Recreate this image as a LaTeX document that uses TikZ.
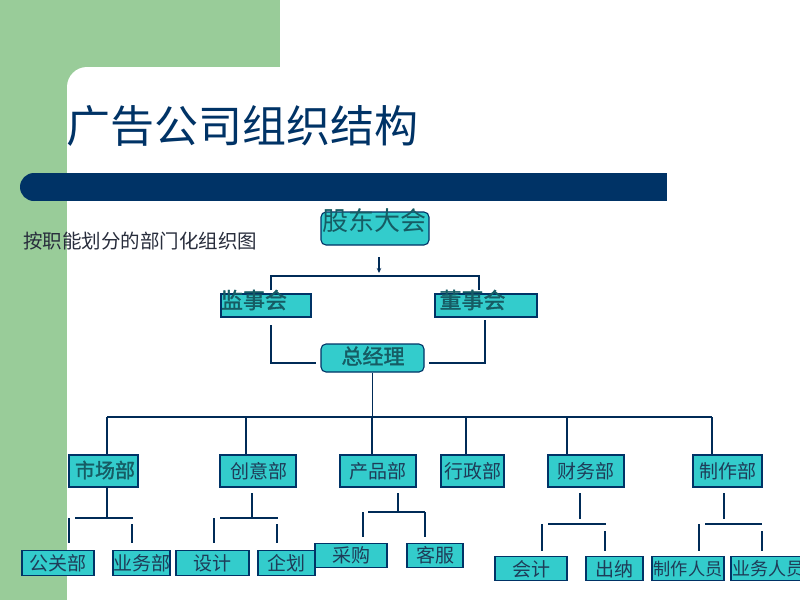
\documentclass[tikz,border=0pt]{standalone}
\usepackage{fontspec}
\newfontfamily\cjk[AutoFakeBold=1.6]{Noto Sans CJK SC}
\usetikzlibrary{arrows.meta,calc}
\definecolor{bggreen}{RGB}{153,204,153}
\definecolor{navy}{RGB}{0,51,102}
\definecolor{tealfill}{RGB}{51,204,204}
\definecolor{boldtxt}{RGB}{22,92,100}
\definecolor{regtxt}{RGB}{30,60,88}
\definecolor{subtxt}{RGB}{40,45,60}
\tikzset{
  box/.style={draw=navy, fill=tealfill, line width=1.1pt, inner sep=0pt},
  rbox/.style={box, rounded corners=5pt},
  lbl/.style={inner sep=0pt, font=\cjk, text=regtxt},
  blbl/.style={inner sep=0pt, font=\cjk\bfseries, text=boldtxt},
  conn/.style={draw=navy!85!black, line width=1.1pt},
}
\begin{document}
\begin{tikzpicture}[x=1pt,y=-1pt]
\useasboundingbox (0,0) rectangle (800,600);
% background
\fill[white] (0,0) rectangle (800,600);
\fill[bggreen] (0,0) rectangle (280,110);
\fill[bggreen] (0,0) rectangle (67,600);
\fill[white, rounded corners=20pt] (67,640) -- (67,67) -- (840,67) -- (840,640) -- cycle;
% title
\node[anchor=west, inner sep=0pt, font=\cjk\fontsize{44}{44}\selectfont, text=navy] (title) at (66,126) {广告公司组织结构};
% bar
\fill[navy] (34,173) rectangle (667,201);
\fill[navy] (34,187) circle[radius=14];
% subtitle
\node[anchor=west, inner sep=0pt, font=\cjk\fontsize{19.5}{20}\selectfont, text=subtxt] (sub) at (23,241) {按职能划分的部门化组织图};

% top boxes
\node[rbox, minimum width=108pt, minimum height=33pt] (gd) at (375,228.5) {};
\node[lbl, text=boldtxt, font=\cjk\fontsize{26}{26}\selectfont] (gdt) at (374.5,221) {股东大会};
\node[box, minimum width=90pt, minimum height=23pt] (jsh) at (266,305.5) {};
\node[blbl, font=\cjk\bfseries\fontsize{22}{22}\selectfont] (jsht) at (254,300) {监事会};
\node[box, minimum width=102pt, minimum height=23pt] (dsh) at (486,305.5) {};
\node[blbl, font=\cjk\bfseries\fontsize{22}{22}\selectfont] (dsht) at (472.5,300) {董事会};
\node[rbox, minimum width=103pt, minimum height=28pt] (zjl) at (372.5,358) {};
\node[blbl, font=\cjk\bfseries\fontsize{21}{21}\selectfont] (zjlt) at (373,356) {总经理};

% departments
\tikzset{dept/.style={box, minimum height=32pt}}
\node[dept, minimum width=69pt] (scb) at (103.5,471) {};
\node[blbl, font=\cjk\bfseries\fontsize{20}{20}\selectfont] (scbt) at (105,470) {市场部};
\node[dept, minimum width=76pt] (cyb) at (258,471) {};
\node[lbl, font=\cjk\fontsize{19}{19}\selectfont] (cybt) at (258.5,471) {创意部};
\node[dept, minimum width=76pt] (cpb) at (378,471) {};
\node[lbl, font=\cjk\fontsize{19}{19}\selectfont] (cpbt) at (378,471) {产品部};
\node[dept, minimum width=63pt] (xzb) at (472.5,471) {};
\node[lbl, font=\cjk\fontsize{19}{19}\selectfont] (xzbt) at (473,471) {行政部};
\node[dept, minimum width=76pt] (cwb) at (586,471) {};
\node[lbl, font=\cjk\fontsize{19}{19}\selectfont] (cwbt) at (586,471) {财务部};
\node[dept, minimum width=69pt] (zzb) at (727.5,471) {};
\node[lbl, font=\cjk\fontsize{19}{19}\selectfont] (zzbt) at (728,471) {制作部};

% leaves
\tikzset{leaf/.style={box, minimum height=24.5pt}, ltxt/.style={lbl, font=\cjk\fontsize{19}{19}\selectfont}}
\node[leaf, minimum width=72pt] (ggb) at (58,563) {};
\node[ltxt] (ggbt) at (58,563) {公关部};
\node[leaf, minimum width=57pt] (ywb) at (141.5,563) {};
\node[ltxt] (ywbt) at (141.5,563) {业务部};
\node[leaf, minimum width=73pt] (sj) at (212.5,563) {};
\node[ltxt] (sjt) at (212,563) {设计};
\node[leaf, minimum width=57pt] (qh) at (286.5,563) {};
\node[ltxt] (qht) at (286,563) {企划};
\node[leaf, minimum width=72pt] (cg) at (351,555.5) {};
\node[ltxt] (cgt) at (351,555) {采购};
\node[leaf, minimum width=56pt] (kf) at (435,555.5) {};
\node[ltxt] (kft) at (435,555) {客服};
\node[leaf, minimum width=72pt] (kj) at (531,568.5) {};
\node[ltxt] (kjt) at (531,569) {会计};
\node[leaf, minimum width=57pt] (cn) at (614.5,568.5) {};
\node[ltxt] (cnt) at (614,569) {出纳};
\node[leaf, minimum width=72pt] (zzry) at (688,568.5) {};
\node[lbl, font=\cjk\fontsize{17.2}{18}\selectfont] (zzryt) at (688,569) {制作人员};
\node[leaf, minimum width=74pt] (ywry) at (768,568.5) {};
\node[lbl, font=\cjk\fontsize{18}{18}\selectfont] (ywryt) at (768,569) {业务人员};

% ---- connectors: top
\coordinate (a1) at (379,257);
\coordinate (a2) at (379,273);
\draw[conn, -{Stealth[length=5pt,width=4.5pt]}] (a1) -- (a2);
\coordinate (t0) at (271,290);
\coordinate (t1) at (271,276);
\coordinate (t2) at (479,276);
\coordinate (t3) at (479,290);
\draw[conn] (t0) -- (t1) -- (t2) -- (t3);
\coordinate (m1) at (271,325);
\coordinate (m3) at (485,320);
\draw[conn] (m1) |- ([xshift=-4pt,yshift=-5pt]zjl.west);
\draw[conn] (m3) |- ([xshift=4pt,yshift=-5pt]zjl.east);
% main bus
\coordinate (d1) at (107,417);
\coordinate (d2) at (246,417);
\coordinate (d3) at (372,417);
\coordinate (d4) at (466,417);
\coordinate (d5) at (567,417);
\coordinate (d6) at (712,417);
\draw[conn] (zjl.south) -- (zjl.south |- d1);
\draw[conn] (d1) -- (d6);
\draw[conn] (d1) -- (d1 |- scb.north);
\draw[conn] (d2) -- (d2 |- cyb.north);
\draw[conn] (d3) -- (d3 |- cpb.north);
\draw[conn] (d4) -- (d4 |- xzb.north);
\draw[conn] (d5) -- (d5 |- cwb.north);
\draw[conn] (d6) -- (d6 |- zzb.north);

% ---- sub-trees
% 市场部
\draw[conn] (107,487) -- (107,518);
\draw[conn] (75,518) -- (133,518);
\draw[conn] (69,518) -- (69,543);
\draw[conn] (132,524) -- (132,543);
% 创意部
\draw[conn] (252,493) -- (252,518);
\draw[conn] (220,518) -- (278,518);
\draw[conn] (214,518) -- (214,543);
\draw[conn] (277,524) -- (277,543);
% 产品部
\draw[conn] (398,493) -- (398,512);
\draw[conn] (368,512) -- (425,512);
\draw[conn] (363,512) -- (363,537);
\draw[conn] (425,512) -- (425,537);
% 财务部
\draw[conn] (580,493) -- (580,519);
\draw[conn] (548,524) -- (606,524);
\draw[conn] (542,524) -- (542,551);
\draw[conn] (605,531) -- (605,551);
% 制作部
\draw[conn] (724,493) -- (724,519);
\draw[conn] (705,524) -- (762,524);
\draw[conn] (699,524) -- (699,551);
\draw[conn] (762,531) -- (762,551);
\end{tikzpicture}
\end{document}
